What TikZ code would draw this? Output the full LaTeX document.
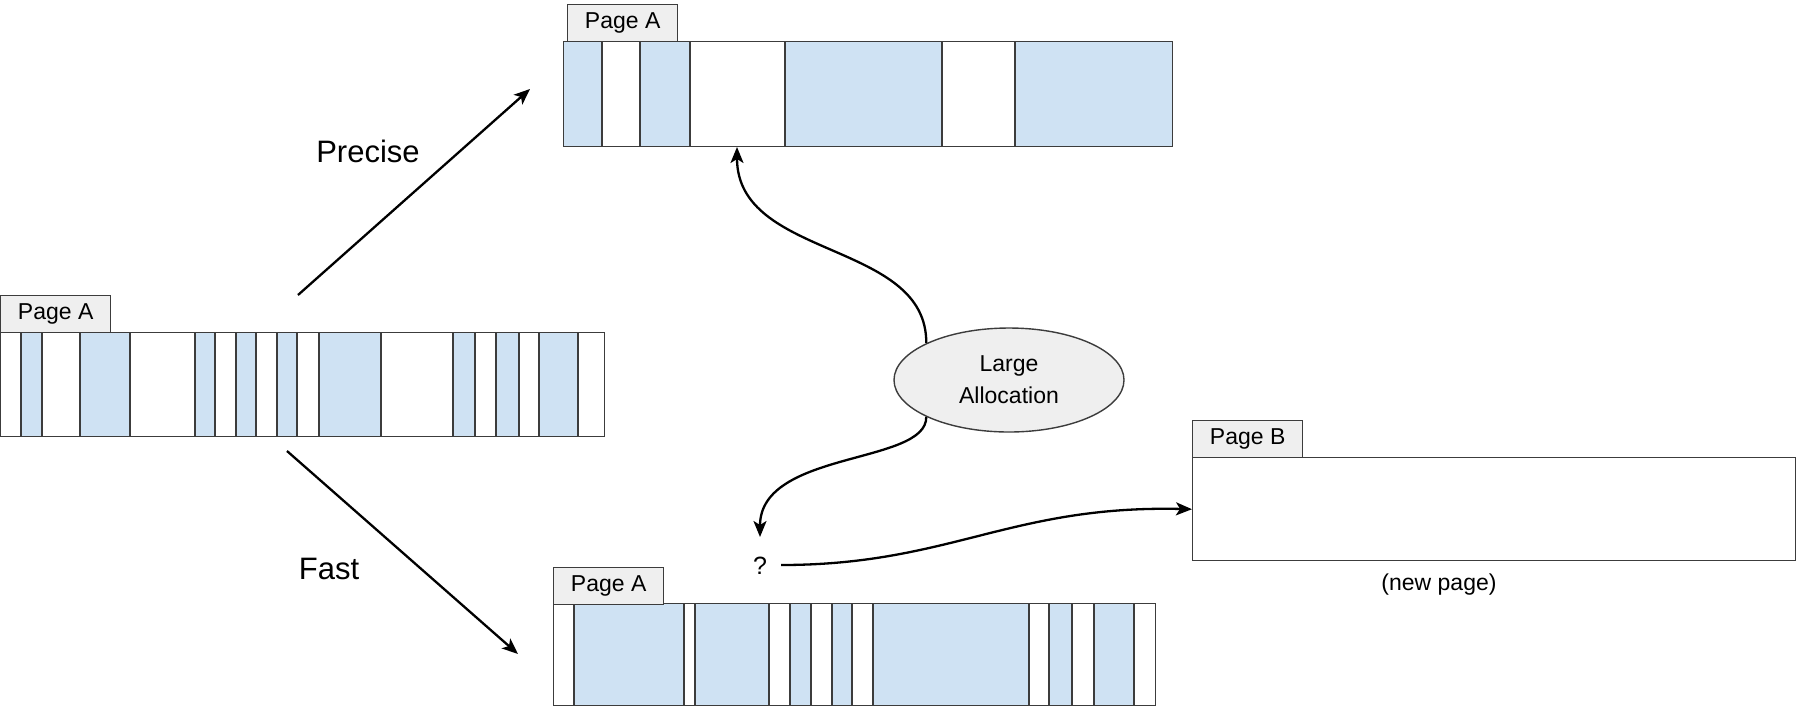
\documentclass[tikz,border=0pt]{standalone}
\usepackage{fontspec}
\setmainfont{Liberation Sans}
\usetikzlibrary{arrows.meta,shapes.geometric}
\definecolor{fillblue}{HTML}{CFE2F3}
\definecolor{tabgray}{HTML}{EFEFEF}
\definecolor{edgegray}{HTML}{3C3C3C}
\begin{document}
\begin{tikzpicture}[x=0.5pt,y=-0.5pt,
  stripbox/.style={draw=edgegray,line width=0.7pt,anchor=north west,inner sep=0pt},
  tabbox/.style={draw=edgegray,fill=tabgray,line width=0.7pt,anchor=north west,inner sep=0pt,
     minimum width=55pt,minimum height=18.5pt,font=\fontsize{11.5}{13}\selectfont},
  segfill/.style={fill=fillblue},
  segline/.style={draw=edgegray,line width=0.7pt},
  lbl/.style={font=\fontsize{15.5}{18}\selectfont,inner sep=0pt},
  small/.style={font=\fontsize{11.5}{13}\selectfont,inner sep=0pt},
  arr/.style={draw=black,line width=1.15pt,-{Stealth[length=8pt,width=6.5pt,inset=2pt]}},
  ellbox/.style={ellipse,draw=edgegray,fill=tabgray,line width=0.7pt,minimum width=115pt,minimum height=52pt,
     align=center,font=\fontsize{11.5}{16}\selectfont,inner sep=0pt}]
\useasboundingbox (0,0) rectangle (1798,708);

% ---------- left strip ----------
\foreach \a/\b in {21/42,80/130,195/215,236/256,277/297,319/381,453/475,496/519,539/578}
  \fill[segfill] (\a,332) rectangle (\b,436);
\foreach \a in {21,42,80,130,195,215,236,256,277,297,319,381,453,475,496,519,539,578}
  \draw[segline] (\a,332) -- (\a,436);
\draw[segline,line width=1.1pt] (539,332) -- (539,436);
\node[stripbox,minimum width=302pt,minimum height=52pt] (left) at (0,332) {};
\node[tabbox] (lefttab) at (0,295) {Page A};

% ---------- top strip ----------
\foreach \a/\b in {563/602,640/690,785/942,1015/1172}
  \fill[segfill] (\a,41) rectangle (\b,146);
\foreach \a in {602,640,690,785,942,1015}
  \draw[segline] (\a,41) -- (\a,146);
\node[stripbox,minimum width=304.5pt,minimum height=52.5pt] (top) at (563,41) {};
\node[tabbox] (toptab) at (567,4) {Page A};

% ---------- bottom strip ----------
\foreach \a/\b in {574/684,695/769,790/811,832/852,873/1029,1049/1072,1094/1134}
  \fill[segfill] (\a,603) rectangle (\b,705);
\foreach \a in {574,684,695,769,790,811,832,852,873,1029,1049,1072,1094,1134}
  \draw[segline] (\a,603) -- (\a,705);
\draw[segline,line width=1.1pt] (1094,603) -- (1094,705);
\node[stripbox,minimum width=301pt,minimum height=51pt] (bottom) at (553,603) {};
\node[tabbox] (bottomtab) at (553,567) {Page A};

% ---------- page B ----------
\node[stripbox,fill=white,minimum width=301.5pt,minimum height=51.5pt] (pageB) at (1192,457) {};
\node[tabbox] (pageBtab) at (1192,420) {Page B};
\node[small] (newpage) at (1439,585) {(new page)};

% ---------- ellipse ----------
\node[ellbox] (ell) at (1009,380) {Large\\Allocation};

% ---------- labels ----------
\node[lbl] (precise) at (368,151) {Precise};
\node[lbl] (fast) at (329,569) {Fast};
\node[small,font=\fontsize{12.5}{14}\selectfont] (q) at (760,566) {?};

% ---------- arrows ----------
\coordinate (ps) at (298,295);
\coordinate (pe) at (530,89);
\coordinate (fs) at (287,451);
\coordinate (fe) at (518,654);
\coordinate (tp) at (737,147);
\coordinate (qt) at (760,537);
\coordinate (qs) at (781,565);
\draw[arr] (ps) -- (pe);
\draw[arr] (fs) -- (fe);
\draw[arr] (ell.156) .. controls (927,240) and (737,260) .. (tp);
\draw[arr] (ell.204) .. controls (927,465) and (760,450) .. (qt);
\draw[arr] (qs) .. controls (950,565) and (1010,505) .. (pageB.west);
\end{tikzpicture}
\end{document}
